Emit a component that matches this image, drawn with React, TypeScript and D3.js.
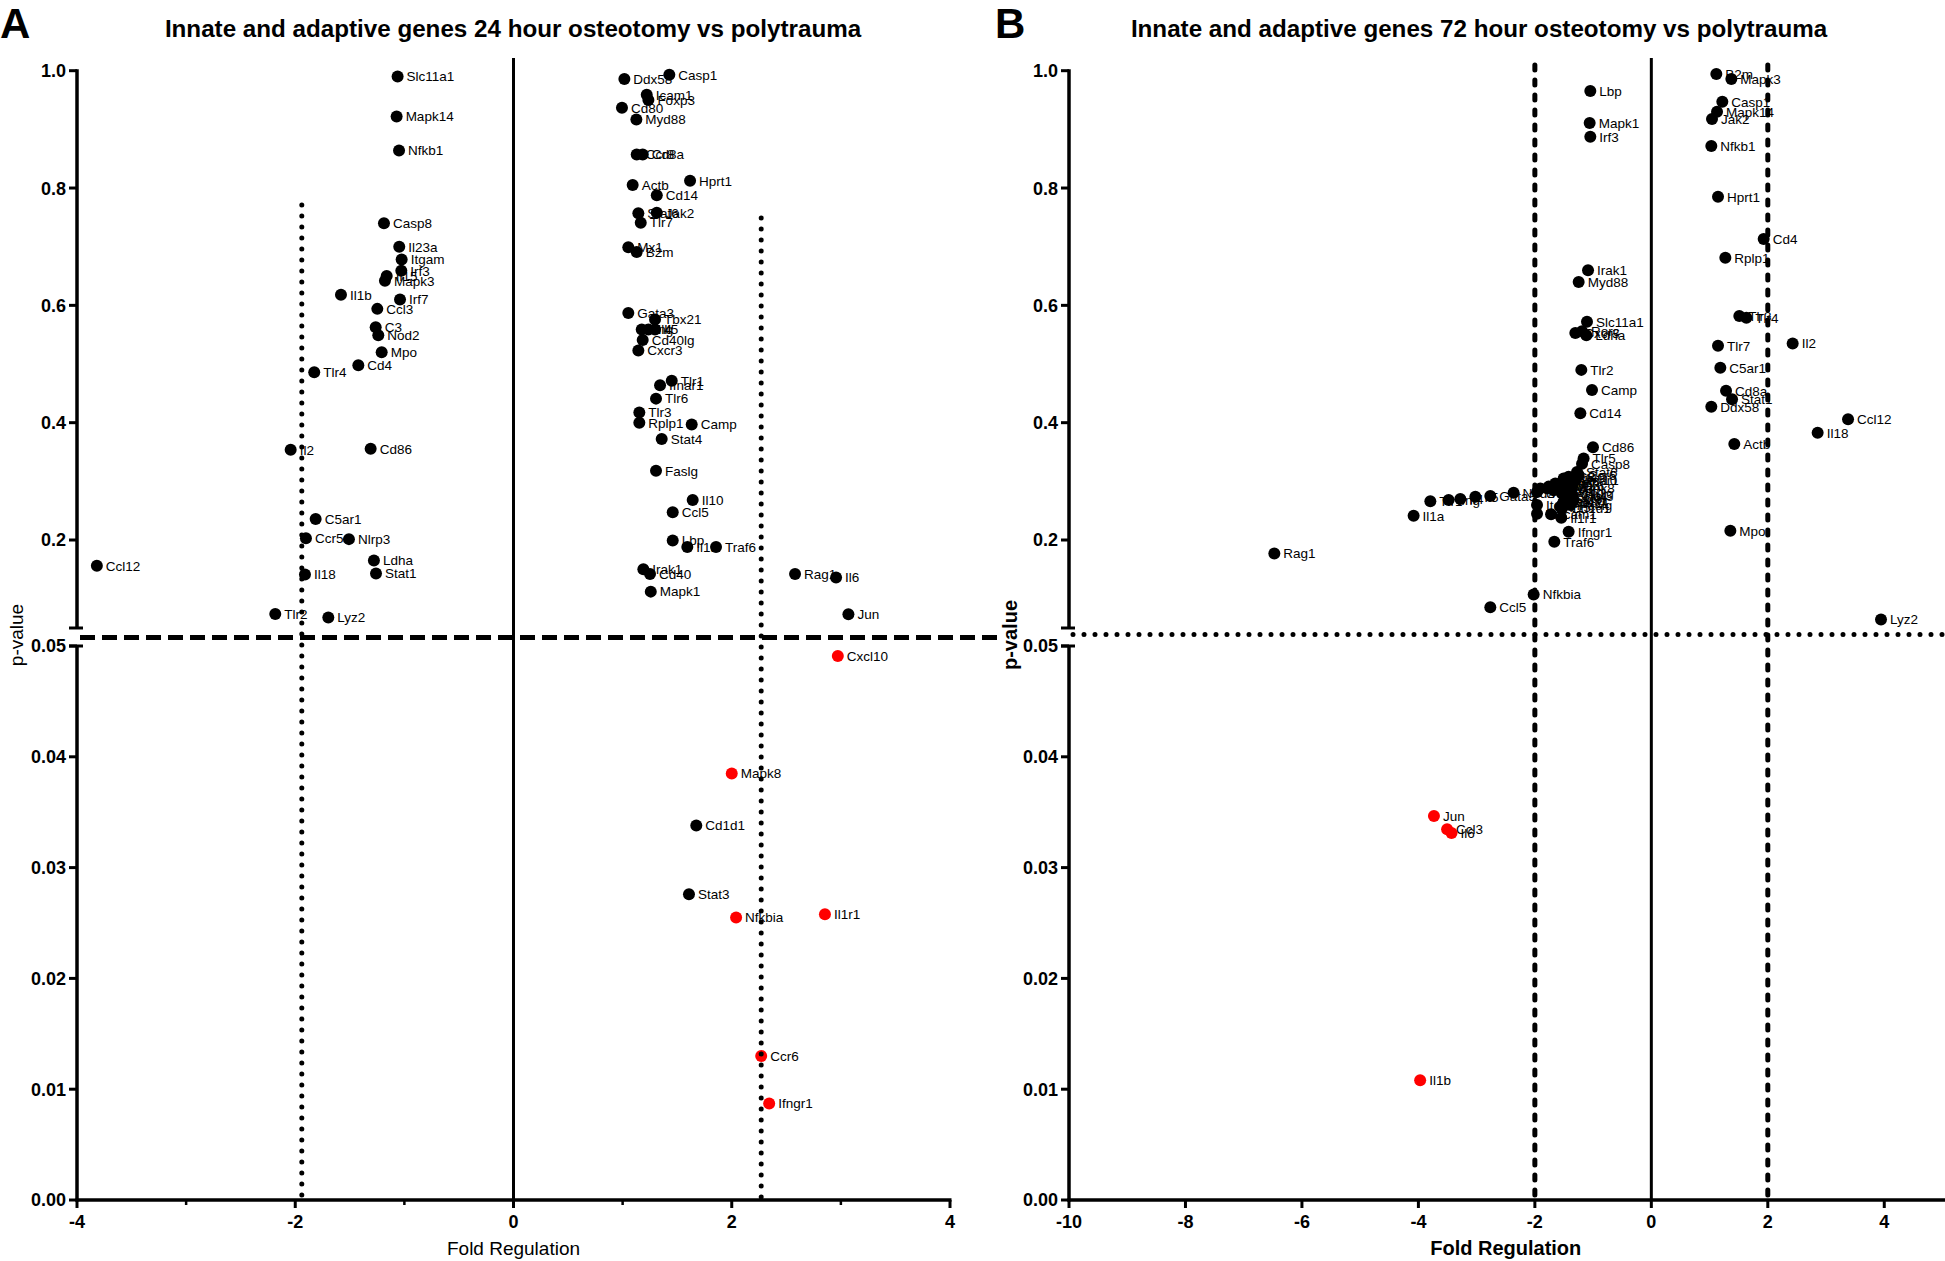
import React from 'react';
import * as d3 from 'd3';

// ---------- DATA ----------
const titleA = 'Innate and adaptive genes 24 hour osteotomy vs polytrauma';
const titleB = 'Innate and adaptive genes 72 hour osteotomy vs polytrauma';

const genesA = ['Slc11a1','Mapk14','Nfkb1','Casp8','Il23a','Itgam','Irf3','Il15','Mapk3','Il1b','Irf7','Ccl3','C3','Nod2','Mpo','Cd4','Tlr4','Il2','Cd86','C5ar1','Ccr5','Nlrp3','Ldha','Stat1','Ccl12','Il18','Tlr2','Lyz2',
  'Ddx58','Casp1','Icam1','Foxp3','Cd80','Myd88','Ccr8','Cd8a','Actb','Hprt1','Cd14','Stat6','Jak2','Tlr7','Mx1','B2m','Gata3','Tbx21','Ifng','Il4','Il5','Cd40lg','Cxcr3','Tlr1','Ifnar1','Tlr6','Tlr3','Rplp1','Camp','Stat4','Faslg','Il10','Ccl5','Lbp','Il1a','Traf6','Irak1','Cd40','Mapk1','Rag1','Il6','Jun',
  'Cxcl10','Mapk8','Cd1d1','Stat3','Nfkbia','Il1r1','Ccr6','Ifngr1'];
const foldA = [-1.062,-1.071,-1.049,-1.187,-1.047,-1.025,-1.028,-1.162,-1.178,-1.581,-1.040,-1.248,-1.263,-1.239,-1.208,-1.422,-1.826,-2.042,-1.309,-1.813,-1.902,-1.508,-1.279,-1.260,-3.818,-1.911,-2.183,-1.697,
  1.016,1.428,1.221,1.236,0.994,1.126,1.129,1.184,1.092,1.618,1.313,1.144,1.313,1.166,1.052,1.129,1.052,1.297,1.175,1.236,1.297,1.184,1.144,1.450,1.343,1.306,1.153,1.153,1.633,1.358,1.306,1.642,1.459,1.459,1.593,1.856,1.190,1.251,1.258,2.580,2.956,3.069,
  2.972,2.000,1.675,1.608,2.040,2.854,2.270,2.343];
const pA = [0.990,0.922,0.864,0.740,0.700,0.678,0.659,0.650,0.642,0.618,0.610,0.594,0.5625,0.549,0.520,0.498,0.486,0.354,0.3555,0.236,0.203,0.2015,0.165,0.143,0.156,0.141,0.074,0.068,
  0.986,0.993,0.959,0.950,0.937,0.917,0.857,0.857,0.805,0.8125,0.7875,0.757,0.758,0.741,0.699,0.691,0.587,0.576,0.559,0.559,0.559,0.541,0.523,0.4715,0.464,0.441,0.4175,0.400,0.397,0.372,0.318,0.268,0.2475,0.199,0.188,0.188,0.150,0.142,0.112,0.142,0.136,0.0735,
  0.0491,0.0385,0.0338,0.0276,0.0255,0.0258,0.0130,0.0087];

const genesB = ['Lbp','Mapk1','Irf3','Irak1','Myd88','Slc11a1','Cxcr3','Rorc','Ldha','Tlr2','Camp','Cd14',
  'B2m','Mapk3','Casp1','Mapk14','Jak2','Nfkb1','Hprt1','Cd4','Rplp1','Tlr3','Tlr4','Tlr7','Il2','C5ar1','Cd8a','Stat1','Ddx58','Ccl12','Il18','Actb','Mpo','Lyz2',
  'Cd86','Tlr5','Casp8','Stat6','Irf7','Il1a','Nfkbia','Ccl5','Ifngr1','Traf6','Icam1','Il1r1','Rag1',
  'Tlr1','Ifng','Il4','Il5','Gata3','Nod2','Nod1','Foxp3','Il10','Cd40','Mapk8','Stat4','Cd80','Il15','Stat3','Itgam','Tnf',
  'Ccr4','Il23a','Ccr5','Nlrp3','Cd40lg','Ccr8','C3','Tlr6','Mx1','Tbx21','Ifnar1','Faslg','Cd1d1','Ccr6','Cxcl10',
  'Jun','Ccl3','Il6','Il1b'];
const foldB = [-1.048,-1.059,-1.048,-1.087,-1.248,-1.105,-1.305,-1.190,-1.116,-1.202,-1.019,-1.219,
  1.116,1.374,1.219,1.128,1.042,1.030,1.145,1.929,1.271,1.511,1.632,1.145,2.427,1.185,1.283,1.386,1.030,3.378,2.856,1.425,1.357,3.944,
  -1.002,-1.163,-1.190,-1.276,-1.420,-4.082,-2.021,-2.765,-1.420,-1.666,-1.722,-1.546,-6.474,
  -3.795,-3.481,-3.280,-3.022,-2.765,-2.365,-1.963,-1.791,-1.649,-1.506,-1.477,-1.448,-1.506,-1.563,-1.362,-1.963,-1.963,
  -1.906,-1.763,-1.677,-1.591,-1.534,-1.477,-1.420,-1.362,-1.334,-1.517,-1.305,-1.391,-1.534,-1.248,-1.448,
  -3.733,-3.507,-3.431,-3.970];
const pB = [0.9654,0.911,0.8875,0.660,0.640,0.572,0.553,0.556,0.549,0.490,0.4556,0.416,
  0.9944,0.986,0.947,0.930,0.9176,0.8716,0.785,0.713,0.681,0.582,0.579,0.531,0.535,0.4936,0.4544,0.440,0.427,0.406,0.383,0.3635,0.2157,0.0646,
  0.358,0.339,0.330,0.316,0.299,0.2413,0.1073,0.0852,0.2140,0.197,0.244,0.238,0.177,
  0.266,0.268,0.2697,0.2737,0.275,0.2805,0.282,0.288,0.2965,0.305,0.288,0.274,0.265,0.2566,0.2766,0.2595,0.2446,
  0.288,0.291,0.285,0.2936,0.2794,0.271,0.3078,0.291,0.268,0.2624,0.302,0.2595,0.254,0.3107,0.302,
  0.03466,0.03347,0.03312,0.01081];

const yTopTicks = [0.2, 0.4, 0.6, 0.8, 1.0];
const yBottomTicks = [0, 0.01, 0.02, 0.03, 0.04, 0.05];
const xMajorA = [-4, -2, 0, 2, 4];
const xMinorA = [-3, -1, 1, 3];
const xMajorB = [-10, -8, -6, -4, -2, 0, 2, 4];
const cutoffsA = [-1.94, 2.27];
const cutoffsB = [-2, 2];

// ---------- LAYOUT ----------
const W = 1945, H = 1261;
const FONT = "'Liberation Sans', Arial, Helvetica, sans-serif";
const yTop = d3.scaleLinear().domain([0.05, 1]).range([628, 70.7]);
const yBot = d3.scaleLinear().domain([0, 0.05]).range([1200, 646]);
const yPos = (p: number) => (p >= 0.05 ? yTop(p) : yBot(p));
const xA = d3.scaleLinear().domain([-4, 4]).range([77, 950]);
const xB = d3.scaleLinear().domain([-10, 5]).range([1069, 1942.5]);
const AXIS_Y = 1200;

const isRed = (f: number, p: number) => p < 0.05 && Math.abs(f) >= 1.95;

function YAxis({ x }: { x: number }) {
  return (
    <g>
      <line x1={x} x2={x} y1={yTop(1) - 1.5} y2={yTop(0.05)} stroke="#000" strokeWidth={3.5} />
      <line x1={x - 8} x2={x + 6} y1={yTop(0.05)} y2={yTop(0.05)} stroke="#000" strokeWidth={3} />
      <line x1={x} x2={x} y1={yBot(0.05)} y2={yBot(0) + 1.5} stroke="#000" strokeWidth={3.5} />
      <line x1={x - 8} x2={x + 6} y1={yBot(0.05)} y2={yBot(0.05)} stroke="#000" strokeWidth={3} />
      {yTopTicks.map(t => (
        <g key={'t' + t}>
          <line x1={x - 8} x2={x} y1={yTop(t)} y2={yTop(t)} stroke="#000" strokeWidth={3} />
          <text x={x - 11} y={yTop(t)} dy="0.36em" textAnchor="end" fontFamily={FONT} fontWeight="bold" fontSize={18}>{t.toFixed(1)}</text>
        </g>
      ))}
      {yBottomTicks.map(t => (
        <g key={'b' + t}>
          <line x1={x - 8} x2={x} y1={yBot(t)} y2={yBot(t)} stroke="#000" strokeWidth={3} />
          <text x={x - 11} y={yBot(t)} dy="0.36em" textAnchor="end" fontFamily={FONT} fontWeight="bold" fontSize={18}>{t.toFixed(2)}</text>
        </g>
      ))}
    </g>
  );
}

interface PanelProps {
  xs: d3.ScaleLinear<number, number>;
  genes: string[]; fold: number[]; p: number[];
  major: number[]; minor: number[];
  title: string; titleX: number; letter: string; letterX: number;
  bold: boolean; xEnd: number;
  variant: 'A' | 'B';
}

function Panel({ xs, genes, fold, p, major, minor, title, titleX, letter, letterX, bold, xEnd, variant }: PanelProps) {
  const [x0] = xs.range();
  const [d0, d1] = xs.domain();
  const cx = xs((d0 + d1) / 2);
  const pts = genes.map((g, i) => ({ g, f: fold[i], p: p[i] }));
  return (
    <g>
      <text x={letterX} y={38} fontFamily={FONT} fontWeight="bold" fontSize={42}>{letter}</text>
      <text x={titleX} y={37} textAnchor="middle" fontFamily={FONT} fontWeight="bold" fontSize={24.2}>{title}</text>
      {/* labels */}
      {pts.map((d, i) => (
        <text key={'l' + i} x={xs(d.f) + 9} y={yPos(d.p)} dy="0.36em" fontFamily={FONT} fontSize={13.5} fill="#000">{d.g}</text>
      ))}
      {/* points */}
      {pts.map((d, i) => (
        <circle key={'c' + i} cx={xs(d.f)} cy={yPos(d.p)} r={6} fill={isRed(d.f, d.p) ? '#ff0000' : '#000'} />
      ))}
      {/* zero line */}
      <line x1={xs(0)} x2={xs(0)} y1={58} y2={AXIS_Y} stroke="#000" strokeWidth={3} />
      {variant === 'A' ? (
        <g>
          <line x1={xs(cutoffsA[0])} x2={xs(cutoffsA[0])} y1={yTop(0.771)} y2={AXIS_Y} stroke="#000" strokeWidth={5} strokeDasharray="0 11" strokeLinecap="round" />
          <line x1={xs(cutoffsA[1])} x2={xs(cutoffsA[1])} y1={yTop(0.749)} y2={AXIS_Y} stroke="#000" strokeWidth={5} strokeDasharray="0 11" strokeLinecap="round" />
          <line x1={x0 + 3} x2={998} y1={637.5} y2={637.5} stroke="#000" strokeWidth={5} strokeDasharray="15 7" />
        </g>
      ) : (
        <g>
          <line x1={xs(cutoffsB[0])} x2={xs(cutoffsB[0])} y1={65} y2={AXIS_Y} stroke="#000" strokeWidth={5} strokeDasharray="5 10" strokeLinecap="round" />
          <line x1={xs(cutoffsB[1])} x2={xs(cutoffsB[1])} y1={65} y2={AXIS_Y} stroke="#000" strokeWidth={5} strokeDasharray="5 10" strokeLinecap="round" />
          <line x1={x0 + 4} x2={W} y1={634.5} y2={634.5} stroke="#000" strokeWidth={5} strokeDasharray="0 11" strokeLinecap="round" />
        </g>
      )}
      {/* axes */}
      <YAxis x={x0} />
      <line x1={x0 - 1.5} x2={xEnd} y1={AXIS_Y} y2={AXIS_Y} stroke="#000" strokeWidth={3.5} />
      {major.map(t => (
        <g key={'x' + t}>
          <line x1={xs(t)} x2={xs(t)} y1={AXIS_Y} y2={AXIS_Y + 8} stroke="#000" strokeWidth={3} />
          <text x={xs(t)} y={1228} textAnchor="middle" fontFamily={FONT} fontWeight="bold" fontSize={18}>{t}</text>
        </g>
      ))}
      {minor.map(t => (
        <line key={'m' + t} x1={xs(t)} x2={xs(t)} y1={AXIS_Y} y2={AXIS_Y + 5} stroke="#000" strokeWidth={2.5} />
      ))}
      <text x={cx} y={1255} textAnchor="middle" fontFamily={FONT} fontWeight={bold ? 'bold' : 'normal'} fontSize={bold ? 20 : 19}>Fold Regulation</text>
      <text transform={`translate(${variant === 'A' ? 16 : 1010},635) rotate(-90)`} textAnchor="middle" dy="0.36em" fontFamily={FONT} fontWeight={bold ? 'bold' : 'normal'} fontSize={bold ? 20 : 19}>p-value</text>
    </g>
  );
}

export default function App() {
  return (
    <div style={{ position: 'absolute', left: 0, top: 0 }}>
      <svg width={W} height={H} style={{ display: 'block', background: '#fff' }}>
        <rect width={W} height={H} fill="#fff" />
        <Panel xs={xA} genes={genesA} fold={foldA} p={pA} major={xMajorA} minor={xMinorA}
          title={titleA} titleX={513} letter="A" letterX={0} bold={false} xEnd={951.5} variant="A" />
        <Panel xs={xB} genes={genesB} fold={foldB} p={pB} major={xMajorB} minor={[]}
          title={titleB} titleX={1479} letter="B" letterX={995} bold={true} xEnd={W} variant="B" />
      </svg>
    </div>
  );
}
